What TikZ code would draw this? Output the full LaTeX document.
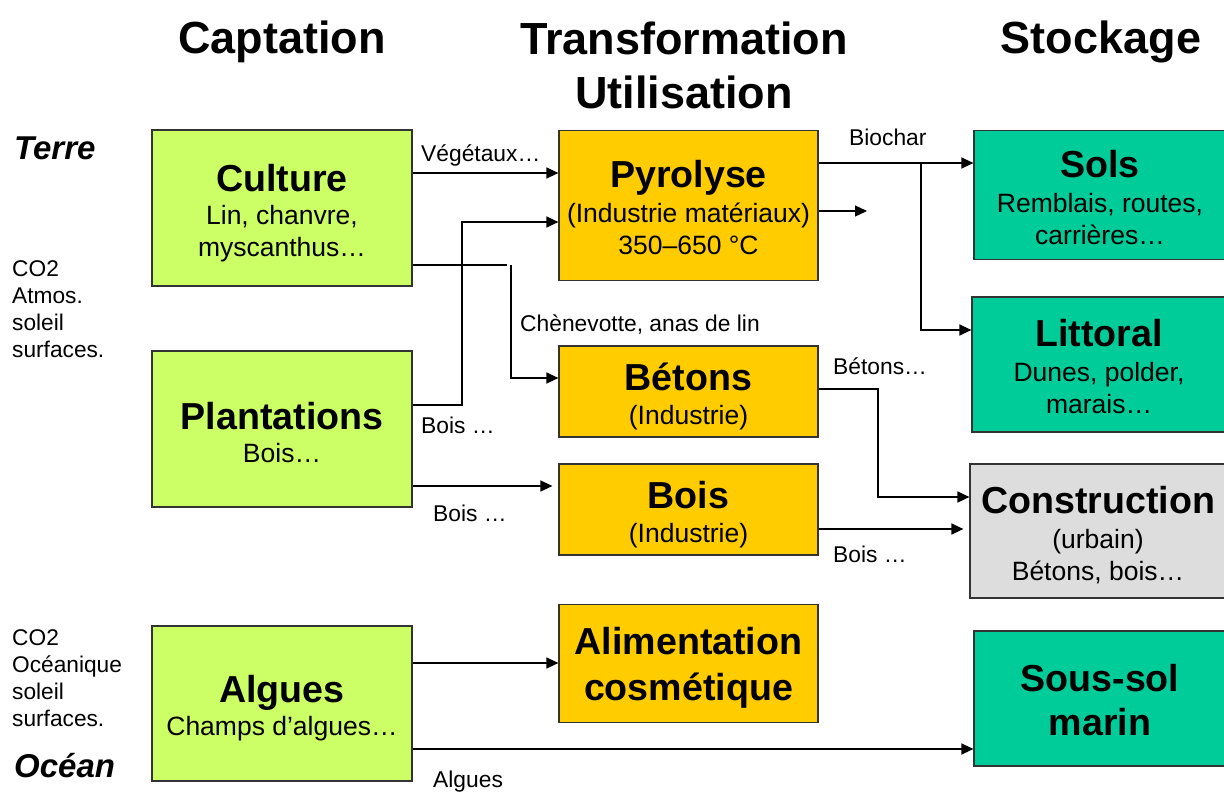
\documentclass[tikz,border=0pt]{standalone}
\usepackage{fontspec}
\setmainfont{Liberation Sans}
\usetikzlibrary{arrows.meta}
\definecolor{lgreen}{HTML}{CCFF66}
\definecolor{gold}{HTML}{FFCC00}
\definecolor{teal2}{HTML}{00CC99}
\definecolor{lgray}{HTML}{DDDDDD}
\newcommand\bxt{\fontsize{37.6}{44}\selectfont\bfseries}
\newcommand\bt[2][37]{{\bxt\rule{0pt}{#1pt}#2}}
\begin{document}
\begin{tikzpicture}[x=1pt,y=-1pt,
  box/.style={draw=black!80, line width=1.2pt, inner sep=0pt, align=center,
    font=\fontsize{26.5}{32}\selectfont},
  green/.style={box, fill=lgreen, minimum width=260pt},
  orange/.style={box, fill=gold, minimum width=259pt},
  store/.style={box, fill=teal2},
  head/.style={font=\fontsize{45}{54}\selectfont\bfseries, align=center, inner sep=0pt},
  side/.style={font=\fontsize{33}{40}\selectfont\bfseries\itshape, anchor=west, inner sep=0pt},
  note/.style={font=\fontsize{22.7}{27.3}\selectfont, align=left, anchor=north west, inner sep=0pt},
  lab/.style={font=\fontsize{22.8}{26}\selectfont, anchor=west, inner sep=0pt, text height=16pt, text depth=5pt},
  arr/.style={line width=1.3pt, -{Triangle[length=12pt,width=11pt]}},
  ln/.style={line width=1.3pt}]
\useasboundingbox (0,0) rectangle (1224,792);
\clip (0,0) rectangle (1224,792);

% headers
\node[head] (h1) at (282,42) {Captation};
\node[head] (h2) at (684,65) {Transformation\\Utilisation};
\node[head] (h3) at (1101,42) {Stockage};

% side labels
\node[side] (terre) at (14,148) {Terre};
\node[side] (ocean) at (14,766) {Océan};
\node[note] (co2a) at (12,260) {CO2\\Atmos.\\soleil\\surfaces.};
\node[note] (co2b) at (12,629) {CO2\\Océanique\\soleil\\surfaces.};

% captation
\node[green, minimum height=156pt] (culture) at (282,208)
  {\bt{Culture}\\[1pt]Lin, chanvre,\\myscanthus…};
\node[green, minimum height=156pt] (plant) at (282,429)
  {\bt[34]{Plantations}\\[1pt]Bois…};
\node[green, minimum height=155pt] (algues) at (282,703.5)
  {\bt[37]{Algues}\\[1pt]Champs d’algues…};

% transformation
\node[orange, minimum height=150pt] (pyro) at (688.5,205.5)
  {\bt[31]{Pyrolyse}\\[3pt](Industrie matériaux)\\350–650 °C};
\node[orange, minimum height=91pt] (betons) at (688.5,391.5)
  {\bt[38]{Bétons}\\[2pt](Industrie)};
\node[orange, minimum height=91pt] (bois) at (688.5,509.5)
  {\bt[38]{Bois}\\[2pt](Industrie)};
\node[orange, minimum height=118pt, font=\fontsize{37.6}{46}\selectfont\bfseries] (alim) at (688.5,663.5)
  {\rule{0pt}{36pt}Alimentation\\cosmétique};

% stockage
\node[store, minimum width=252pt, minimum height=129pt] (sols) at (1100,195)
  {\bt[33]{Sols}\\[3pt]Remblais, routes,\\carrières…};
\node[store, minimum width=254pt, minimum height=135pt] (litt) at (1099,364.5)
  {\bt[31]{Littoral}\\[3pt]Dunes, polder,\\marais…};
\node[box, fill=lgray, minimum width=256pt, minimum height=134pt] (constr) at (1098,531)
  {\bt[35]{Construction}\\[3pt](urbain)\\Bétons, bois…};
\node[store, minimum width=252pt, minimum height=135pt, font=\fontsize{37.6}{44}\selectfont\bfseries] (sous) at (1100,698.5)
  {\rule{0pt}{30pt}Sous-sol\\marin};

% connectors
\draw[arr] (culture.east |- 0,173) -- (pyro.west |- 0,173);
\node[lab] (lveg) at (421,156) {Végétaux…};

\draw[arr] (plant.east |- 0,405) -- (462,405) |- (pyro.west |- 0,222);
\node[lab] (lbois1) at (421,428) {Bois …};

\draw[ln] (culture.east |- 0,265) -- (507,265);
\draw[arr] (511,265) |- (betons.west |- 0,378);
\node[lab] (lchen) at (520,326) {Chènevotte, anas de lin};

\draw[arr] (plant.east |- 0,486) -- ([xshift=-6pt]bois.west |- 0,486);
\node[lab] (lbois2) at (433,516) {Bois …};

\draw[arr] (pyro.east |- 0,163) -- (sols.west |- 0,163);
\draw[arr] (921,163) |- (litt.west |- 0,330);
\node[lab] (lbio) at (849,140) {Biochar};

\coordinate (pyroout) at (867,211);
\draw[arr] (pyro.east |- 0,211) -- (pyroout);

\draw[arr] (betons.east |- 0,389) -- (878,389) |- (constr.west |- 0,497);
\node[lab] (lbet) at (833,369) {Bétons…};

\draw[arr] (bois.east |- 0,529) -- ([xshift=-6pt]constr.west |- 0,529);
\node[lab] (lbois3) at (833,557) {Bois …};

\draw[arr] (algues.east |- 0,663) -- (alim.west |- 0,663);
\draw[arr] (algues.east |- 0,749) -- (sous.west |- 0,749);
\node[lab] (lalg) at (433,782) {Algues};
\end{tikzpicture}
\end{document}
